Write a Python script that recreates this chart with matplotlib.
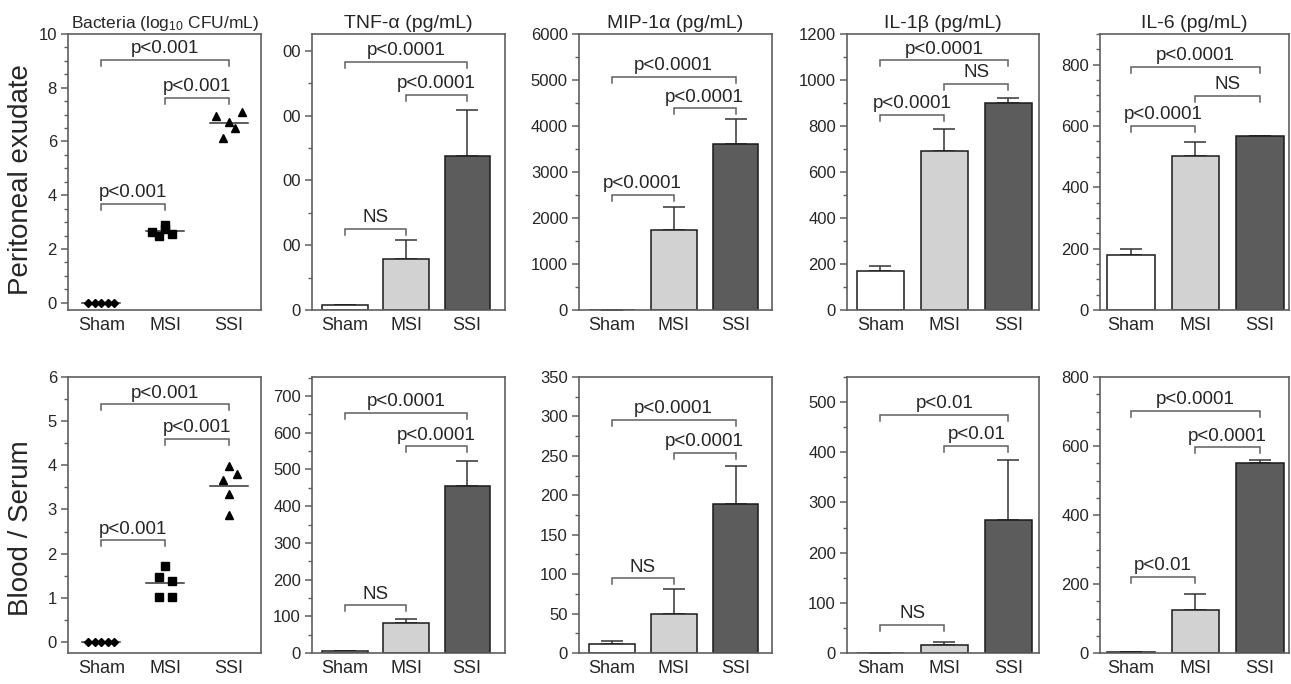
import matplotlib
matplotlib.use("Agg")
import matplotlib.pyplot as plt
import numpy as np
from matplotlib.ticker import MultipleLocator, FixedLocator, FixedFormatter

plt.rcParams['font.family'] = ['Liberation Sans', 'DejaVu Sans']
plt.rcParams['mathtext.fontset'] = 'custom'
plt.rcParams['mathtext.rm'] = 'Liberation Sans'
plt.rcParams['mathtext.it'] = 'Liberation Sans:italic'

groups = ['Sham', 'MSI', 'SSI']
row_labels = ['Peritoneal exudate', 'Blood / Serum']
titles = [r'Bacteria (log$_{10}$ CFU/mL)', 'TNF-α (pg/mL)', 'MIP-1α (pg/mL)',
          'IL-1β (pg/mL)', 'IL-6 (pg/mL)']

# --- Bacteria (individual animals) ---
pe_bact_sham = [0, 0, 0, 0, 0]
pe_bact_msi = [2.65, 2.47, 2.90, 2.75, 2.56]
pe_bact_ssi = [6.96, 7.11, 6.74, 6.49, 6.14]
bl_bact_sham = [0, 0, 0, 0, 0]
bl_bact_msi = [1.73, 1.48, 1.39, 1.01, 1.01]
bl_bact_ssi = [3.98, 3.80, 3.67, 3.36, 2.87]

# --- Cytokines: mean and SEM (Sham, MSI, SSI) ---
pe_tnf_mean = [14, 158, 474]
pe_tnf_sem = [0, 58, 142]
pe_mip_mean = [10, 1745, 3607]
pe_mip_sem = [0, 495, 538]
pe_il1_mean = [169, 692, 899]
pe_il1_sem = [21, 95, 22]
pe_il6_mean = [180, 503, 568]
pe_il6_sem = [19, 46, 0]

bl_tnf_mean = [5, 82, 456]
bl_tnf_sem = [0, 12, 68]
bl_mip_mean = [12, 50, 189]
bl_mip_sem = [3.7, 30.6, 48.6]
bl_il1_mean = [0, 16, 266]
bl_il1_sem = [0, 6.6, 118]
bl_il6_mean = [2, 124, 550]
bl_il6_sem = [0, 48, 10]

# --- Significance brackets: (group a, group b, height, label) ---
pe_bact_sig = [(0, 2, 9.04, 'p<0.001'), (1, 2, 7.61, 'p<0.001'), (0, 1, 3.68, 'p<0.001')]
pe_tnf_sig = [(0, 2, 767, 'p<0.0001'), (1, 2, 663, 'p<0.0001'), (0, 1, 251, 'NS')]
pe_mip_sig = [(0, 2, 5076, 'p<0.0001'), (1, 2, 4385, 'p<0.0001'), (0, 1, 2495, 'p<0.0001')]
pe_il1_sig = [(0, 2, 1085, 'p<0.0001'), (1, 2, 983, 'NS'), (0, 1, 848, 'p<0.0001')]
pe_il6_sig = [(0, 2, 792, 'p<0.0001'), (1, 2, 699, 'NS'), (0, 1, 601, 'p<0.0001')]
bl_bact_sig = [(0, 2, 5.38, 'p<0.001'), (1, 2, 4.60, 'p<0.001'), (0, 1, 2.30, 'p<0.001')]
bl_tnf_sig = [(0, 2, 654, 'p<0.0001'), (1, 2, 563, 'p<0.0001'), (0, 1, 130, 'NS')]
bl_mip_sig = [(0, 2, 296, 'p<0.0001'), (1, 2, 254, 'p<0.0001'), (0, 1, 94.6, 'NS')]
bl_il1_sig = [(0, 2, 475, 'p<0.01'), (1, 2, 412, 'p<0.01'), (0, 1, 56, 'NS')]
bl_il6_sig = [(0, 2, 702, 'p<0.0001'), (1, 2, 596, 'p<0.0001'), (0, 1, 221, 'p<0.01')]

# ---------------- styling / layout ----------------
W, H = 1291, 684
fig = plt.figure(figsize=(W / 100, H / 100), dpi=100)
spine_c = '#5f5f5f'
text_c = '#262626'
bar_colors = ['white', '#d2d2d2', '#5c5c5c']

col_px = [(68, 261), (312, 505), (579, 772), (847, 1039), (1100, 1289)]
row_px = [(34, 310), (377, 653)]
xlims = [(-0.52, 2.5), (-0.54, 2.62), (-0.53, 2.59), (-0.52, 2.48), (-0.48, 2.45)]

jit_sham = [-0.2, -0.1, 0.0, 0.1, 0.2]
jit_pe_msi = [-0.2, -0.1, 0.0, 0.0, 0.1]
jit_pe_ssi = [-0.2, 0.2, 0.0, 0.1, -0.1]
jit_bl_msi = [0.0, -0.1, 0.1, -0.1, 0.1]
jit_bl_ssi = [0.0, 0.12, -0.1, 0.0, 0.0]


def make_ax(r, c):
    x0, x1 = col_px[c]
    y0, y1 = row_px[r]
    ax = fig.add_axes([x0 / W, 1 - y1 / H, (x1 - x0) / W, (y1 - y0) / H])
    for s in ax.spines.values():
        s.set_color(spine_c)
        s.set_linewidth(1.2)
    ax.tick_params(axis='y', which='major', length=5, width=1.1, color=spine_c,
                   labelsize=12, pad=3, labelcolor=text_c)
    ax.tick_params(axis='y', which='minor', length=3, width=1.0, color=spine_c)
    ax.tick_params(axis='x', length=0, labelsize=13, pad=5, labelcolor=text_c)
    ax.set_xticks(range(3))
    ax.set_xticklabels(groups)
    ax.set_xlim(*xlims[c])
    return ax


def brackets(ax, sigs):
    lo, hi = ax.get_ylim()
    d = (hi - lo) * 6.0 / 276
    for a, b, y, lab in sigs:
        ax.plot([a, a, b, b], [y - d, y, y, y - d], color=spine_c, lw=1.1,
                solid_joinstyle='miter', clip_on=False)
        ax.annotate(lab, xy=((a + b) / 2, y), xytext=(0, 2), textcoords='offset points',
                    ha='center', va='bottom', fontsize=13.5, color=text_c)


def bact_panel(ax, sets, jitters, markers, sizes, ylim, major, minor, sigs):
    ax.set_ylim(*ylim)
    ax.yaxis.set_major_locator(MultipleLocator(major))
    ax.yaxis.set_minor_locator(MultipleLocator(minor))
    for i, (vals, jit, m, ms) in enumerate(zip(sets, jitters, markers, sizes)):
        xs = np.array(jit) + i
        ax.plot([i - 0.3, i + 0.3], [np.mean(vals)] * 2, color='#333333', lw=1.1, zorder=2)
        ax.plot(xs, vals, linestyle='none', marker=m, ms=ms, color='black', zorder=3)
    brackets(ax, sigs)


def bar_panel(ax, means, sems, ylim, major, minor, sigs, ticklabels=None):
    ax.set_ylim(*ylim)
    if ticklabels is None:
        ax.yaxis.set_major_locator(MultipleLocator(major))
    else:
        locs = list(np.arange(0, ylim[1], major))
        ax.yaxis.set_major_locator(FixedLocator(locs))
        ax.yaxis.set_major_formatter(FixedFormatter(ticklabels))
    ax.yaxis.set_minor_locator(MultipleLocator(minor))
    x = np.arange(3)
    ax.bar(x, means, width=0.74, color=bar_colors, edgecolor='#1a1a1a', linewidth=1.1, zorder=2)
    ax.errorbar(x, means, yerr=[np.zeros(3), sems], fmt='none', ecolor='#333333',
                elinewidth=1.1, capsize=8, capthick=1.1, zorder=1)
    brackets(ax, sigs)


# top row
ax = make_ax(0, 0)
bact_panel(ax, [pe_bact_sham, pe_bact_msi, pe_bact_ssi], [jit_sham, jit_pe_msi, jit_pe_ssi],
           ['D', 's', '^'], [4, 6, 5.5], (-0.27, 10), 2, 0.5, pe_bact_sig)
ax.set_title(titles[0], fontsize=12.5, pad=4, color=text_c)

ax = make_ax(0, 1)
bar_panel(ax, pe_tnf_mean, pe_tnf_sem, (0, 852), 200, 100, pe_tnf_sig,
          ticklabels=['0', '00', '00', '00', '00'])
ax.set_title(titles[1], fontsize=14, pad=4, color=text_c)

ax = make_ax(0, 2)
bar_panel(ax, pe_mip_mean, pe_mip_sem, (0, 6000), 1000, 500, pe_mip_sig)
ax.set_title(titles[2], fontsize=14, pad=4, color=text_c)

ax = make_ax(0, 3)
bar_panel(ax, pe_il1_mean, pe_il1_sem, (0, 1200), 200, 100, pe_il1_sig)
ax.set_title(titles[3], fontsize=14, pad=4, color=text_c)

ax = make_ax(0, 4)
bar_panel(ax, pe_il6_mean, pe_il6_sem, (0, 900), 200, 50, pe_il6_sig)
ax.set_title(titles[4], fontsize=14, pad=4, color=text_c)

# bottom row
ax = make_ax(1, 0)
bact_panel(ax, [bl_bact_sham, bl_bact_msi, bl_bact_ssi], [jit_sham, jit_bl_msi, jit_bl_ssi],
           ['D', 's', '^'], [4, 6, 5.5], (-0.25, 6), 1, 0.5, bl_bact_sig)

ax = make_ax(1, 1)
bar_panel(ax, bl_tnf_mean, bl_tnf_sem, (0, 752), 100, 50, bl_tnf_sig)

ax = make_ax(1, 2)
bar_panel(ax, bl_mip_mean, bl_mip_sem, (0, 350), 50, 25, bl_mip_sig)

ax = make_ax(1, 3)
bar_panel(ax, bl_il1_mean, bl_il1_sem, (0, 550), 100, 50, bl_il1_sig)

ax = make_ax(1, 4)
bar_panel(ax, bl_il6_mean, bl_il6_sem, (0, 800), 200, 50, bl_il6_sig)

fig.text(21 / W, 1 - 180 / H, row_labels[0], rotation=90, ha='center', va='center',
         fontsize=20, color=text_c)
fig.text(21 / W, 1 - 528 / H, row_labels[1], rotation=90, ha='center', va='center',
         fontsize=20, color=text_c)

fig.savefig('out.png', dpi=100, facecolor='white')
